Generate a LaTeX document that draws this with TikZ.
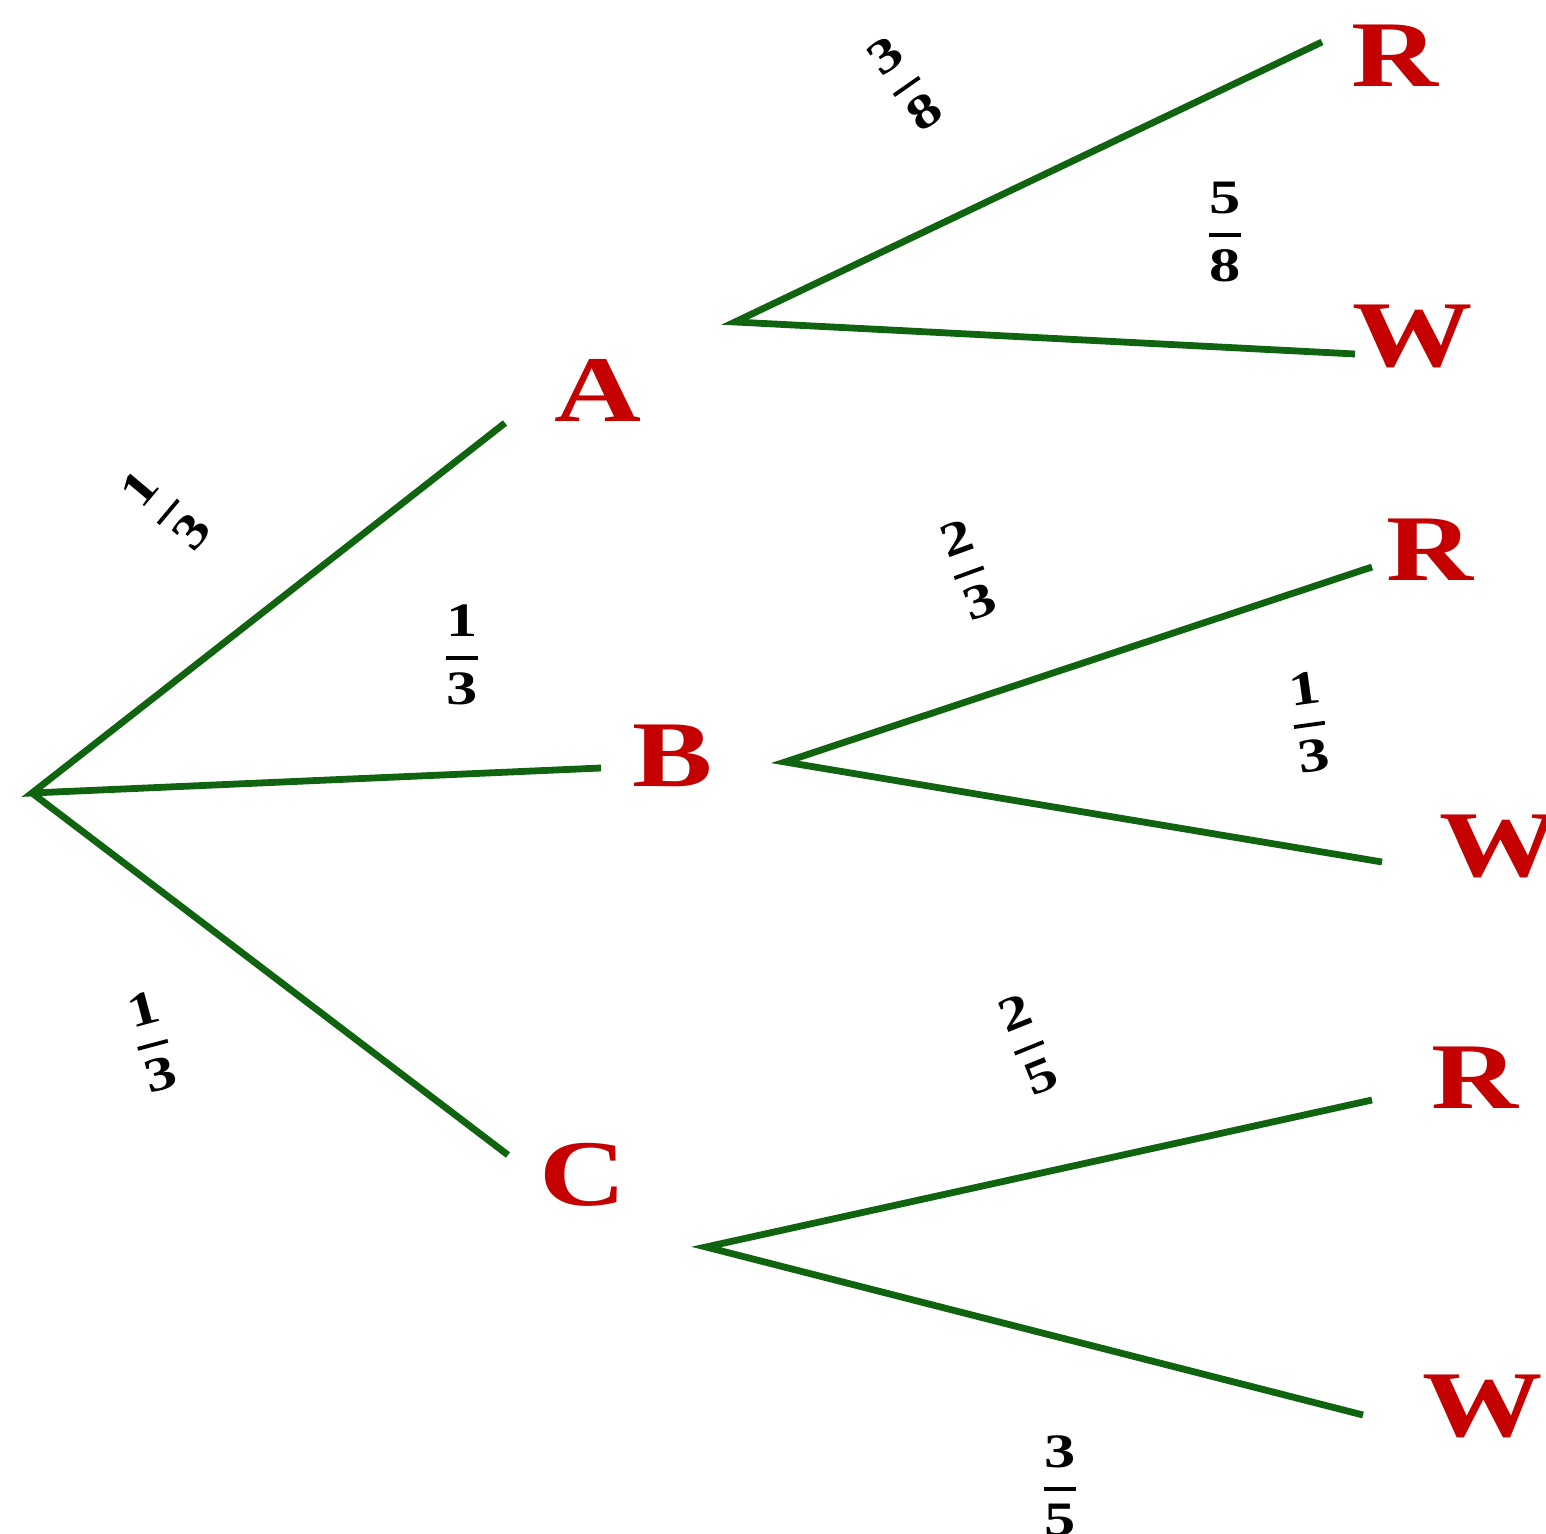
\documentclass[tikz,border=0pt]{standalone}
\usepackage{fontspec}
\setmainfont{Liberation Serif}
\usepackage{amsmath}
\definecolor{branch}{RGB}{16,100,16}
\definecolor{outcome}{RGB}{196,0,0}
\tikzset{
  edge/.style={draw=branch, line width=3.4pt},
  outcomelabel/.style={text=outcome, font=\fontsize{47}{47}\selectfont\bfseries, inner sep=0pt, xscale=1.28},
  prob/.style={inner sep=0pt, font=\fontsize{24}{24}\selectfont}
}
% stacked probability fraction with a heavy bar
\newcommand{\pfrac}[2]{$\genfrac{}{}{1.9pt}{0}{\textbf{#1}}{\textbf{#2}}$}
\begin{document}
\begin{tikzpicture}[x=0.5pt, y=-0.5pt]
\useasboundingbox (0,0) rectangle (1546,1534);
% first stage
\coordinate (root) at (32,793);
\coordinate (a0) at (505,423);
\coordinate (b0) at (601,768);
\coordinate (c0) at (508,1155);
\node[outcomelabel] (A) at (598,390) {A};
\node[outcomelabel] (B) at (673,756) {B};
\node[outcomelabel] (C) at (583,1175) {C};
\draw[edge] (a0) -- (root) -- (b0);
\draw[edge] (root) -- (c0);
% second stage from A
\coordinate (a1) at (735,322);
\coordinate (ar) at (1322,42);
\coordinate (aw) at (1355,354);
\node[outcomelabel] (AR) at (1395,56) {R};
\node[outcomelabel] (AW) at (1413,336) {W};
\draw[edge] (ar) -- (a1) -- (aw);
% second stage from B
\coordinate (b1) at (785,762);
\coordinate (br) at (1372,567);
\coordinate (bw) at (1382,862);
\node[outcomelabel] (BR) at (1430,550) {R};
\node[outcomelabel] (BW) at (1500,846) {W};
\draw[edge] (br) -- (b1) -- (bw);
% second stage from C
\coordinate (c1) at (706,1247);
\coordinate (cr) at (1372,1100);
\coordinate (cw) at (1363,1415);
\node[outcomelabel] (CR) at (1475,1078) {R};
\node[outcomelabel] (CW) at (1483,1406) {W};
\draw[edge] (cr) -- (c1) -- (cw);
% probabilities
\node[prob, rotate=50, xscale=1.3] (pA) at (166,510) {\pfrac{1}{3}};
\node[prob, xscale=1.3] (pB) at (462,655) {\pfrac{1}{3}};
\node[prob, rotate=15, xscale=1.3] (pC) at (152,1042) {\pfrac{1}{3}};
\node[prob, rotate=35, xscale=1.3] (pAR) at (905,84) {\pfrac{3}{8}};
\node[prob, xscale=1.3] (pAW) at (1225,232) {\pfrac{5}{8}};
\node[prob, rotate=20, xscale=1.3] (pBR) at (968,570) {\pfrac{2}{3}};
\node[prob, rotate=8, xscale=1.3] (pBW) at (1309,722) {\pfrac{1}{3}};
\node[prob, rotate=22, xscale=1.3] (pCR) at (1028,1045) {\pfrac{2}{5}};
\node[prob, xscale=1.3] (pCW) at (1060,1486) {\pfrac{3}{5}};
\end{tikzpicture}
\end{document}
